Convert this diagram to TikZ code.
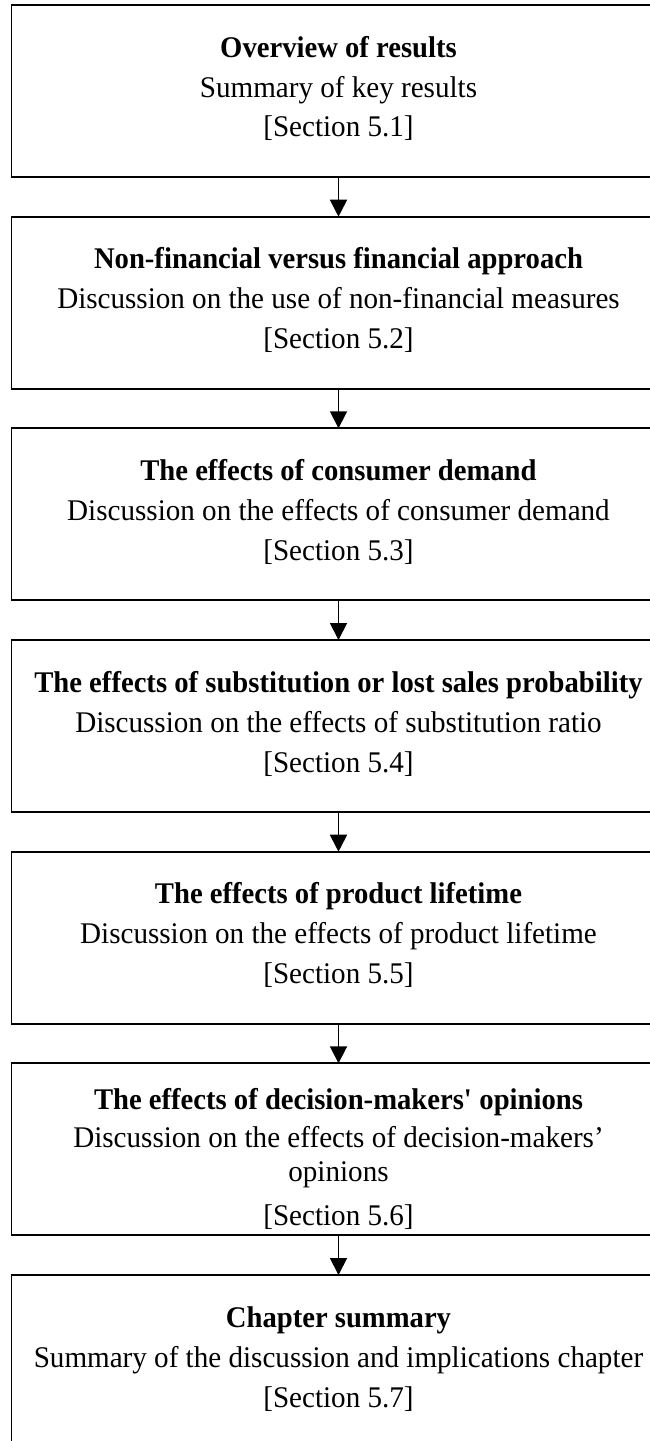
\documentclass[tikz,border=0pt]{standalone}
\usepackage{fontspec}
\setmainfont{Liberation Serif}[FakeStretch=0.97]
\newfontfamily\ttlfam{Liberation Serif}[FakeStretch=0.955]
\usetikzlibrary{arrows.meta}
\begin{document}
\begin{tikzpicture}[x=1pt,y=-1pt,
  box/.style={draw=black,line width=1.8pt,minimum width=654pt,minimum height=172pt,anchor=north,inner sep=0pt,outer sep=0pt},
  txt/.style={anchor=base,inner sep=0pt,font=\fontsize{30}{34}\selectfont},
  ttl/.style={anchor=base,inner sep=0pt,font=\fontsize{30}{34}\ttlfam\bfseries},
  arr/.style={line width=1.8pt,-{Triangle[width=17pt,length=17pt]}}]
\useasboundingbox (0,0) rectangle (650,1441);
\clip (0,0) rectangle (650,1441);
\fill[white] (0,0) rectangle (650,1441);
% boxes
\node[box] (b1) at (338.5,5) {};
\node[box] (b2) at (338.5,216.7) {};
\node[box] (b3) at (338.5,428.3) {};
\node[box] (b4) at (338.5,640) {};
\node[box] (b5) at (338.5,851.7) {};
\node[box] (b6) at (338.5,1063.3) {};
\node[box] (b7) at (338.5,1275) {};
% arrows
\draw[arr] (b1.south) -- (b2.north);
\draw[arr] (b2.south) -- (b3.north);
\draw[arr] (b3.south) -- (b4.north);
\draw[arr] (b4.south) -- (b5.north);
\draw[arr] (b5.south) -- (b6.north);
\draw[arr] (b6.south) -- (b7.north);
% texts
\node[ttl] (t1) at (338.5,57) {Overview of results};
\node[txt] (s1) at (338.5,97) {Summary of key results};
\node[txt] (r1) at (338.5,136) {[Section 5.1]};
\node[ttl] (t2) at (338.5,268.7) {Non-financial versus financial approach};
\node[txt] (s2) at (338.5,308.7) {Discussion on the use of non-financial measures};
\node[txt] (r2) at (338.5,348.7) {[Section 5.2]};
\node[ttl] (t3) at (338.5,480.3) {The effects of consumer demand};
\node[txt] (s3) at (338.5,520.3) {Discussion on the effects of consumer demand};
\node[txt] (r3) at (338.5,560.3) {[Section 5.3]};
\node[ttl] (t4) at (338.5,692) {The effects of substitution or lost sales probability};
\node[txt] (s4) at (338.5,732) {Discussion on the effects of substitution ratio};
\node[txt] (r4) at (338.5,772) {[Section 5.4]};
\node[ttl] (t5) at (338.5,903.7) {The effects of product lifetime};
\node[txt] (s5) at (338.5,943.7) {Discussion on the effects of product lifetime};
\node[txt] (r5) at (338.5,983.7) {[Section 5.5]};
\node[ttl] (t6) at (338.5,1109) {The effects of decision-makers\textquotesingle{} opinions};
\node[txt] (s6) at (338.5,1147) {Discussion on the effects of decision-makers’};
\node[txt] (s6b) at (338.5,1181) {opinions};
\node[txt] (r6) at (338.5,1225.5) {[Section 5.6]};
\node[ttl] (t7) at (338.5,1327) {Chapter summary};
\node[txt] (s7) at (338.5,1367) {Summary of the discussion and implications chapter};
\node[txt] (r7) at (338.5,1407) {[Section 5.7]};
\end{tikzpicture}
\end{document}
